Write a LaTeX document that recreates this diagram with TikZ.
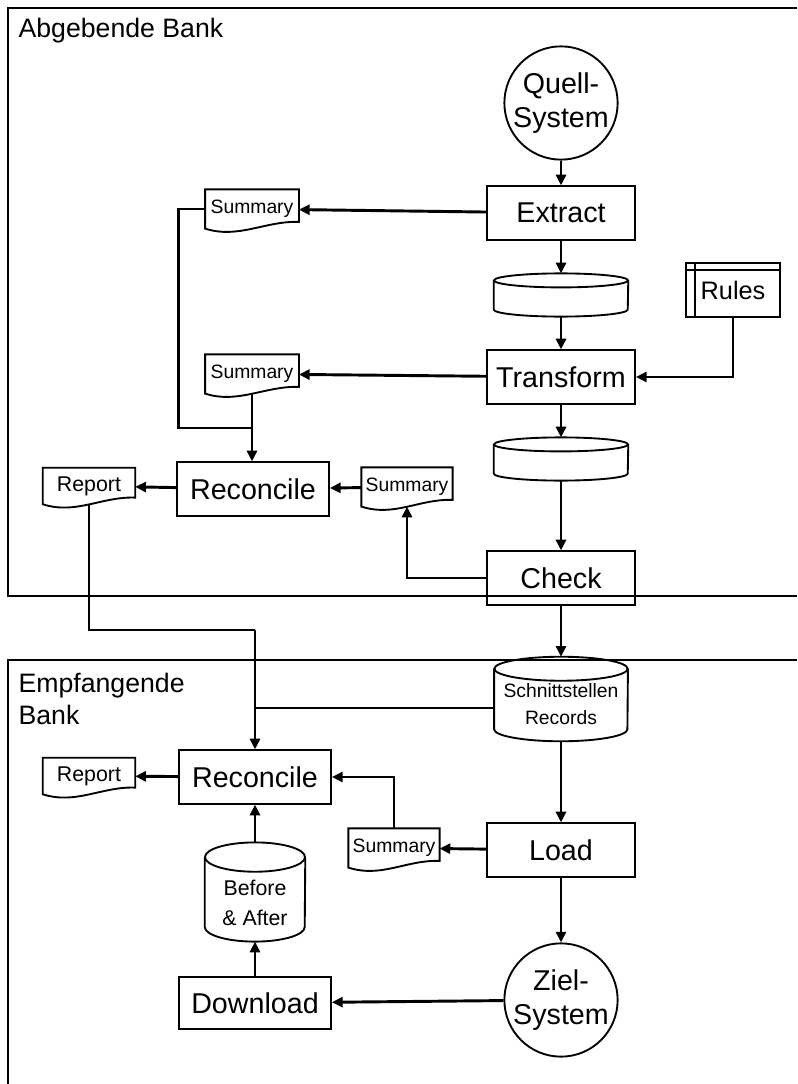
\documentclass[tikz,border=0pt]{standalone}
\usepackage{fontspec}
\setmainfont{Liberation Sans}
\usetikzlibrary{arrows.meta,positioning}

% document shape with wavy bottom, drawn round a named node
\newcommand{\docshape}[1]{%
  \draw[outline] (#1.north west) -- (#1.north east) -- ([yshift=5pt]#1.south east)
    .. controls ([xshift=-25pt,yshift=6pt]#1.south east) and ([xshift=25pt,yshift=-8pt]#1.south west) .. (#1.south west) -- cycle;}
% database cylinder: node, half width, end radius
\newcommand{\dbshape}[3]{%
  \draw[outline] ([yshift=-#3]#1.north west) -- ([yshift=#3]#1.south west)
    arc[start angle=180, end angle=360, x radius=#2, y radius=#3] -- ([yshift=-#3]#1.north east);
  \draw[outline] ([yshift=-#3]#1.north) ellipse[x radius=#2, y radius=#3];}

\begin{document}
\begin{tikzpicture}[x=0.75pt, y=-0.75pt,
    every node/.style={inner sep=1pt},
    box/.style={draw, line width=1.4pt, minimum width=111pt, minimum height=40pt, font=\fontsize{21.5}{25}\selectfont},
    term/.style={draw, circle, line width=1.4pt, inner sep=0pt, minimum size=84pt, align=center, font=\fontsize{21.5}{26}\selectfont},
    doc/.style={minimum width=70pt, minimum height=29pt, font=\fontsize{14.5}{17}\selectfont},
    report/.style={doc, minimum width=69pt, minimum height=27pt, font=\fontsize{16}{19}\selectfont},
    outline/.style={line width=1.4pt},
    conn/.style={line width=2.2pt, -{Triangle[length=8pt,width=7.5pt]}},
    wire/.style={line width=2.2pt},
    frame/.style={line width=0.9pt},
    title/.style={font=\fontsize{20}{24}\selectfont, align=left}]

\useasboundingbox (0,0) rectangle (797,1084);

% the two banks
\draw[frame] (797,8) -| (8,596) -- (797,596);
\draw[frame] (797,660) -| (8,1084);
\node[title, anchor=west] (bank1) at (17,31) {Abgebende Bank};
\node[title, anchor=north west] (bank2) at (17,672) {Empfangende\\Bank};

% main column
\node[term] (quell) at (561,103) {Quell-\\System};
\node[box] (extract) at (561,213) {Extract};
\node[minimum width=100.5pt, minimum height=32pt] (db1) at (561,295) {};
\node[box] (transform) at (561,377) {Transform};
\node[minimum width=100.5pt, minimum height=32pt] (db2) at (561,459) {};
\node[box] (check) at (561,578) {Check};
\node[minimum width=100pt, minimum height=63pt,
  label={[yshift=-4pt, align=center, font=\fontsize{14.5}{20}\selectfont]center:Schnittstellen\\Records}] (iface) at (561,699) {};
\node[box] (load) at (561,850) {Load};
\node[term] (ziel) at (561,1000) {Ziel-\\System};

\node[draw, outline, minimum width=70pt, minimum height=41pt, font=\fontsize{19}{22}\selectfont] (rules) at (733,290) {Rules};
\draw[outline] ([xshift=7.5pt]rules.north west) -- ([xshift=7.5pt]rules.south west);
\draw[outline] ([yshift=-6pt]rules.north west) -- ([yshift=-6pt]rules.north east);

% sending side
\node[doc] (sum1) at (252,209) {Summary};
\node[doc] (sum2) at (252,374) {Summary};
\node[box, minimum width=114pt] (rec1) at (253,489) {Reconcile};
\node[doc, minimum width=68pt] (sum3) at (407,487) {Summary};
\node[report] (rep1) at (89,486) {Report};

% receiving side
\node[box, minimum width=114pt] (rec2) at (255,777) {Reconcile};
\node[report] (rep2) at (89,776) {Report};
\node[doc, minimum width=68pt] (sum4) at (394,848) {Summary};
\node[minimum width=75pt, minimum height=74pt,
  label={[yshift=-8pt, align=center, font=\fontsize{16}{22.5}\selectfont]center:Before\\\& After}] (before) at (255,892) {};
\node[box, minimum width=114pt, minimum height=39pt] (download) at (255,1003) {Download};

\foreach \d in {sum1,sum2,sum3,sum4,rep1,rep2} {\docshape{\d}}
\dbshape{db1}{50.25pt}{5.25pt}
\dbshape{db2}{50.25pt}{5.25pt}
\dbshape{iface}{50pt}{9pt}
\dbshape{before}{37.5pt}{11pt}

\coordinate (j1) at (252,428);
\coordinate (j2) at (255,630);
\coordinate (j3) at (255,708);

% connectors
\draw[conn] (quell) -- (extract);
\draw[conn] (extract) -- (db1);
\draw[conn] (db1) -- (transform);
\draw[conn] (transform) -- (db2);
\draw[conn] (db2) -- (check);
\draw[conn] (check) -- (iface);
\draw[conn] (iface) -- (load);
\draw[conn] (load) -- (ziel);
\draw[conn] (rules.south) |- (transform.east);
\draw[conn] (extract) -- (sum1);
\draw[conn] (transform) -- (sum2);
\draw[wire] (sum1.west) -- ++(-27,0) |- (j1);
\draw[conn] (sum2.south) -- (sum2.south |- rec1.north);
\draw[conn] (sum3) -- (rec1);
\draw[conn] (rec1) -- (rep1);
\draw[conn] (check.west) -| (sum3.south);
\draw[wire] (rep1.south) |- (j2);
\draw[conn] (j2) -- (rec2.north);
\draw[wire] (iface.west |- j3) -- (j3);
\draw[conn] (rec2) -- (rep2);
\draw[conn] (load) -- (sum4);
\draw[conn] (sum4.north) |- (rec2.east);
\draw[conn] (before) -- (rec2);
\draw[conn] (download) -- (before);
\draw[conn] (ziel) -- (download);
\end{tikzpicture}
\end{document}
